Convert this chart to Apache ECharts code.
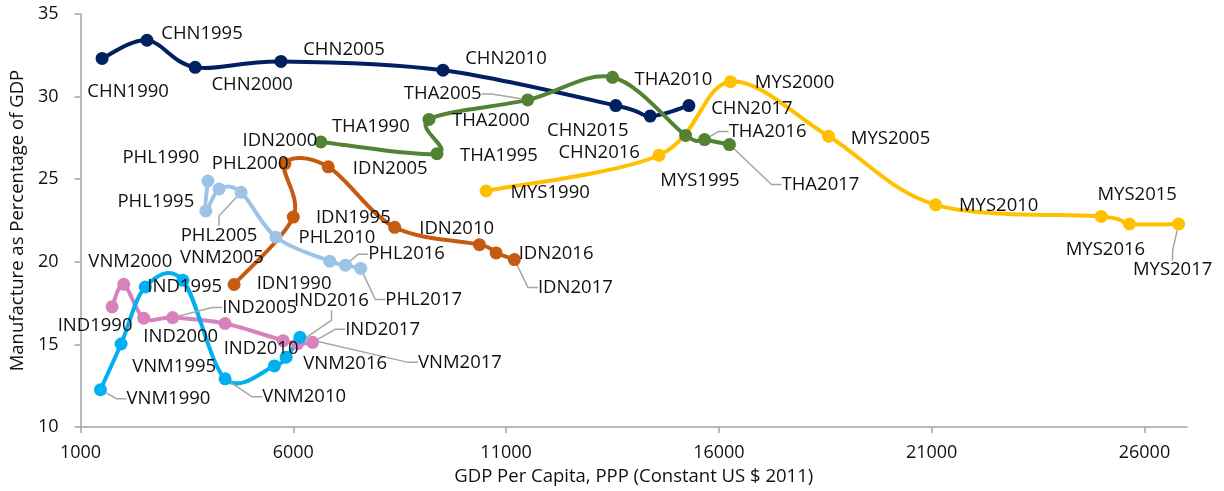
<!DOCTYPE html>
<html>
<head>
<meta charset="utf-8">
<script src="https://cdn.jsdelivr.net/npm/echarts@6/dist/echarts.min.js"></script>
<style>
html,body{margin:0;padding:0;background:#fff;}
#chart{width:1224px;height:491px;}
</style>
</head>
<body>
<div id="chart"></div>
<script>
// ---- data ----
const years = [1990, 1995, 2000, 2005, 2010, 2015, 2016, 2017];

const chnX = [1508, 2563, 3695, 5711, 9517, 13578, 14386, 15296];
const chnY = [32.31, 33.41, 31.77, 32.13, 31.60, 29.46, 28.82, 29.46];

const idnX = [4609, 6001, 5804, 6821, 8382, 10374, 10766, 11195];
const idnY = [18.63, 22.71, 25.95, 25.75, 22.09, 21.04, 20.54, 20.14];

const indX = [1743, 2017, 2486, 3165, 4398, 5762, 6100, 6453];
const indY = [17.28, 18.64, 16.59, 16.63, 16.27, 15.23, 15.05, 15.13];

const mysX = [10531, 14593, 16274, 18577, 21094, 24984, 25647, 26803];
const mysY = [24.29, 26.45, 30.90, 27.60, 23.45, 22.75, 22.29, 22.29];

const phlX = [3993, 3946, 4258, 4773, 5593, 6859, 7227, 7585];
const phlY = [24.89, 23.08, 24.41, 24.21, 21.49, 20.04, 19.80, 19.60];

const thaX = [6648, 9376, 9188, 11509, 13501, 15219, 15664, 16249];
const thaY = [27.26, 26.55, 28.62, 29.80, 31.17, 27.65, 27.40, 27.10];

const vnmX = [1469, 1954, 2523, 3407, 4398, 5556, 5832, 6156];
const vnmY = [12.26, 15.03, 18.48, 18.88, 12.92, 13.70, 14.23, 15.43];

const xTicks = [1000, 6000, 11000, 16000, 21000, 26000];
const yTicks = [10, 15, 20, 25, 30, 35];

// ---- label placement (style only): [dx, dy, leaderLine] ----
const labelPlace = {
  CHN1990:[26,33], CHN1995:[55,-7], CHN2000:[57,17], CHN2005:[63,-12], CHN2010:[63,-11],
  CHN2015:[-28,25], CHN2016:[-51,37], CHN2017:[63,3],
  THA1990:[50,-15], THA1995:[62,2], THA2000:[62,1], THA2005:[-85,-6,1], THA2010:[61,2],
  THA2016:[63,-8,1], THA2017:[91,40,1],
  MYS1990:[64,2], MYS1995:[41,25], MYS2000:[64,1], MYS2005:[62,2], MYS2010:[63,1],
  MYS2015:[36,-22], MYS2016:[-24,26], MYS2017:[-6,46,1],
  IDN1990:[60,-1], IDN1995:[60,1], IDN2000:[-5,-23], IDN2005:[62,2], IDN2010:[62,1],
  IDN2016:[60,1], IDN2017:[61,28,1],
  PHL1990:[-47,-23], PHL1995:[-50,-9], PHL2000:[31,-25], PHL2005:[-22,43,1], PHL2010:[61,0],
  PHL2016:[61,-11,1], PHL2017:[63,31,1],
  VNM1990:[68,9,1], VNM1995:[53,23], VNM2000:[-15,-25], VNM2005:[39,-23], VNM2010:[79,18,1],
  VNM2016:[59,7], VNM2017:[160,25,1],
  IND1990:[-17,19], IND1995:[61,2], IND2000:[37,19], IND2005:[87,-10,1], IND2010:[36,25],
  IND2016:[34,-43,1], IND2017:[70,-13,1]
};

const countries = [
  {code:'CHN', xs:chnX, ys:chnY, color:'#002060'},
  {code:'IDN', xs:idnX, ys:idnY, color:'#C55A11'},
  {code:'IND', xs:indX, ys:indY, color:'#D683BD'},
  {code:'MYS', xs:mysX, ys:mysY, color:'#FFC000'},
  {code:'PHL', xs:phlX, ys:phlY, color:'#9DC3E6'},
  {code:'THA', xs:thaX, ys:thaY, color:'#548235'},
  {code:'VNM', xs:vnmX, ys:vnmY, color:'#00B0F0'}
];

const FONT = '"Open Sans", "Noto Sans", sans-serif';
const TXT = '#111111';
const AXC = '#a3a3a3';

// Excel-like smoothed curve (Catmull-Rom as cubic Bezier) through the axis-mapped points
function curveSeries(c) {
  return {
    type: 'custom',
    name: c.code + ' curve',
    silent: true,
    data: c.xs.map((x, i) => [x, c.ys[i]]),
    encode: {x: 0, y: 1},
    renderItem: (params, api) => {
      if (params.dataIndex !== 0) return null;
      const pts = c.xs.map((x, i) => api.coord([x, c.ys[i]]));
      const n = pts.length;
      let d = 'M' + pts[0][0] + ' ' + pts[0][1];
      for (let i = 0; i < n - 1; i++) {
        const p0 = pts[Math.max(i - 1, 0)], p1 = pts[i], p2 = pts[i + 1], p3 = pts[Math.min(i + 2, n - 1)];
        const c1x = p1[0] + (p2[0] - p0[0]) / 6, c1y = p1[1] + (p2[1] - p0[1]) / 6;
        const c2x = p2[0] - (p3[0] - p1[0]) / 6, c2y = p2[1] - (p3[1] - p1[1]) / 6;
        d += ' C' + c1x + ' ' + c1y + ' ' + c2x + ' ' + c2y + ' ' + p2[0] + ' ' + p2[1];
      }
      return {
        type: 'path',
        shape: {pathData: d},
        style: {fill: null, stroke: c.color, lineWidth: 4, lineJoin: 'round', lineCap: 'round'}
      };
    }
  };
}

function pointSeries(c) {
  const names = years.map(y => c.code + y);
  return {
    type: 'scatter',
    name: c.code,
    symbol: 'circle',
    symbolSize: 13,
    itemStyle: {color: c.color, opacity: 1},
    emphasis: {disabled: true},
    data: c.xs.map((x, i) => {
      const p = labelPlace[names[i]];
      return {
        value: [x, c.ys[i]],
        name: names[i],
        label: {show: !!p},
        labelLine: {show: !!(p && p[2])}
      };
    }),
    label: {
      show: true,
      position: 'inside',
      formatter: p => p.name,
      fontSize: 18.5,
      fontFamily: FONT,
      color: TXT
    },
    labelLine: {show: false, lineStyle: {color: '#a6a6a6', width: 1.5}, length2: 10},
    labelLayout: params => {
      const p = labelPlace[names[params.dataIndex]];
      return p ? {dx: p[0], dy: p[1]} : {};
    }
  };
}

const series = [];
countries.forEach(c => { series.push(curveSeries(c)); series.push(pointSeries(c)); });

const chart = echarts.init(document.getElementById('chart'), null, {renderer: 'canvas'});
chart.setOption({
  animation: false,
  backgroundColor: '#ffffff',
  grid: {left: 78, right: 37, top: 14, bottom: 61},
  xAxis: {
    type: 'value',
    min: 1000, max: 27000, interval: 5000,
    name: 'GDP Per Capita, PPP (Constant US $ 2011)',
    nameLocation: 'middle', nameGap: 37,
    nameTextStyle: {fontSize: 18.5, fontFamily: FONT, color: TXT},
    axisLine: {show: true, lineStyle: {color: AXC, width: 1.5}},
    axisTick: {show: true, length: 6, lineStyle: {color: AXC, width: 1.5}, customValues: xTicks},
    axisLabel: {fontSize: 18, fontFamily: FONT, color: TXT, margin: 17, customValues: xTicks,
                formatter: v => String(v)},
    splitLine: {show: false}
  },
  yAxis: {
    type: 'value',
    min: 10, max: 35, interval: 5,
    name: 'Manufacture as Percentage of GDP',
    nameLocation: 'middle', nameGap: 51,
    nameTextStyle: {fontSize: 18.5, fontFamily: FONT, color: TXT},
    axisLine: {show: true, lineStyle: {color: AXC, width: 1.5}},
    axisTick: {show: true, length: 6, lineStyle: {color: AXC, width: 1.5}, customValues: yTicks},
    axisLabel: {fontSize: 18, fontFamily: FONT, color: TXT, margin: 22, customValues: yTicks,
                formatter: v => String(v)},
    splitLine: {show: false}
  },
  series: series
});
</script>
</body>
</html>
